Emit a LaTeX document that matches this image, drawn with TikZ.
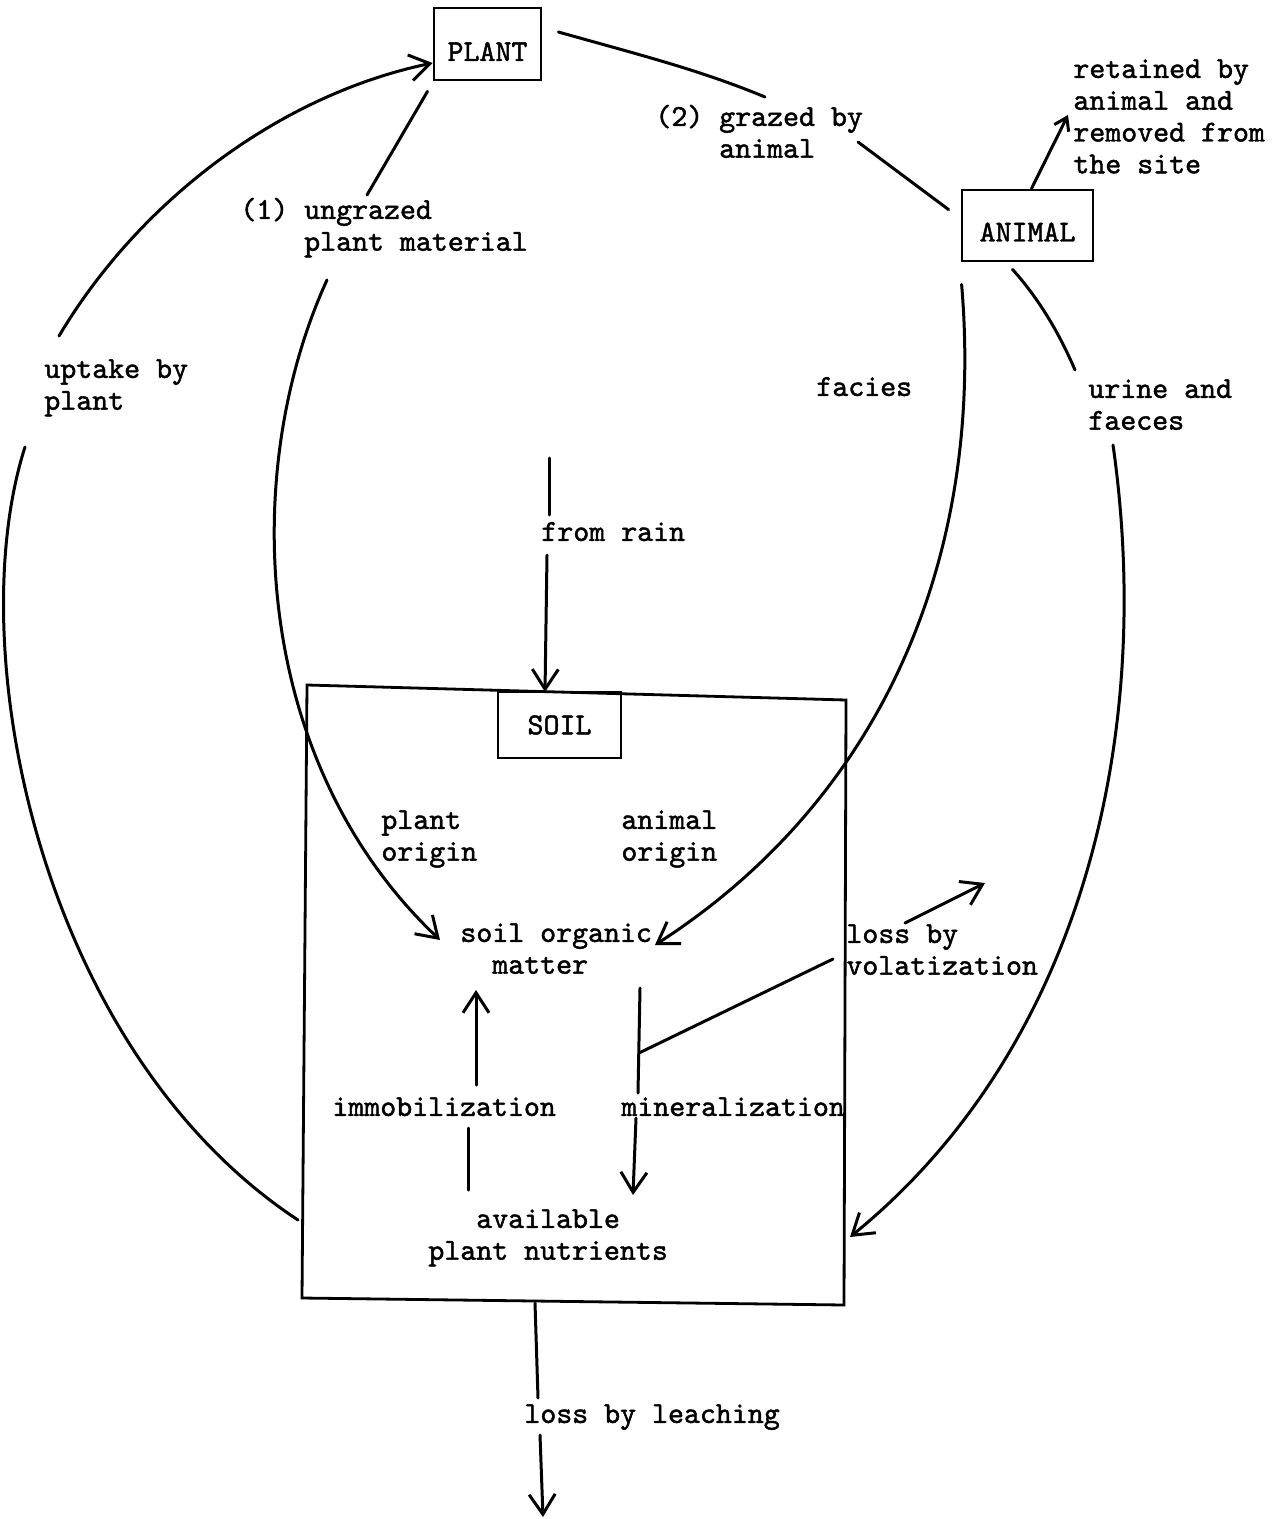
\documentclass[tikz,border=0pt]{standalone}
\usepackage{fontspec}
\newfontfamily\tw{lmmono10-regular.otf}[FakeBold=1.5]
\usetikzlibrary{arrows.meta}
\newcommand\lstr{\rule{0pt}{12pt}}
\begin{document}
\begin{tikzpicture}[x=0.5pt,y=-0.5pt,
  ln/.style={line width=1.5pt, line cap=round},
  arr/.style={ln, -{Straight Barb[length=10pt,width=13pt,line width=1.5pt]}},
  arrs/.style={ln, -{Straight Barb[length=6pt,width=8pt,line width=1.5pt]}},
  lbl/.style={anchor=north west, inner sep=0pt, align=left,
    font=\tw\fontsize{15.2}{15.9}\selectfont, yshift=8.75pt},
  boxn/.style={draw, line width=1.4pt, inner sep=0pt,
    font=\tw\fontsize{15.2}{15.9}\selectfont}]
\path[use as bounding box] (0,0) rectangle (1282,1519);

% ---- boxes
\node[boxn, minimum width=53.5pt, minimum height=36pt, text height=17pt, text depth=0pt] (plant) at (487.5,44) {PLANT};
\node[boxn, minimum width=65.5pt, minimum height=35.5pt, text height=16pt, text depth=0pt] (animal) at (1027.5,225.5) {ANIMAL};
\node[boxn, minimum width=61.5pt, minimum height=33pt] (soil) at (559.5,725) {SOIL};
\draw[line width=1.4pt] (307,685) -- (846,700) -- (844,1305) -- (302,1298) -- cycle;

% ---- labels
\node[lbl] (ungr) at (240,212) {\lstr(1) ungrazed\\\hphantom{(1)~}plant material};
\node[lbl] (graz) at (655,119) {\lstr(2) grazed by\\\hphantom{(2)~}animal};
\node[lbl] (ret) at (1073,71) {\lstr retained by\\animal and\\removed from\\the site};
\node[lbl] (upt) at (44,371) {\lstr uptake by\\plant};
\node[lbl] (fac) at (816,389) {\lstr facies};
\node[lbl] (uri) at (1088,391) {\lstr urine and\\faeces};
\node[lbl] (rain) at (541,534) {\lstr from rain};
\node[lbl] (porig) at (381,822) {\lstr plant\\origin};
\node[lbl] (aorig) at (621,822) {\lstr animal\\origin};
\node[lbl] (som) at (460,935) {\lstr soil organic\\\hphantom{so}matter};
\node[lbl] (vol) at (846,936) {\lstr loss by\\volatization};
\node[lbl] (imm) at (332,1109) {\lstr immobilization};
\node[lbl] (min) at (621,1109) {\lstr mineralization};
\node[lbl] (avail) at (428,1221) {\lstr\hphantom{pla}available\\plant nutrients};
\node[lbl] (leach) at (524,1416) {\lstr loss by leaching};

% ---- connector end points
\coordinate (upA) at (298,1220);
\coordinate (upB) at (25,447);
\coordinate (upC) at (59,336);
\coordinate (ugA) at (367,195);
\coordinate (ugB) at (327,280);
\coordinate (somL) at (440,940);
\coordinate (somR) at (655,945);
\coordinate (grA) at (765,97);
\coordinate (grB) at (858,142);
\coordinate (retT) at (1068,115);
\coordinate (urA) at (1075,370);
\coordinate (urB) at (1113,445);
\coordinate (urT) at (850,1237);
\coordinate (rainA) at (549,458);
\coordinate (rainB) at (549,515);
\coordinate (rainC) at (547,555);
\coordinate (rainT) at (545,692);
\coordinate (imA) at (468,1190);
\coordinate (imB) at (468,1128);
\coordinate (imC) at (476,1085);
\coordinate (imT) at (476,990);
\coordinate (miA) at (640,988);
\coordinate (miB) at (638,1093);
\coordinate (miC) at (636,1118);
\coordinate (miT) at (633,1195);
\coordinate (voA) at (639,1053);
\coordinate (voB) at (833,959);
\coordinate (voC) at (905,923);
\coordinate (voT) at (985,883);
\coordinate (leA) at (535,1303);
\coordinate (leB) at (538,1398);
\coordinate (leC) at (540,1435);
\coordinate (leT) at (543,1517);

% ---- uptake by plant
\draw[ln] (upA) .. controls (40,1050) and (-40,650) .. (upB);
\draw[arr] (upC) .. controls (140,200) and (280,95) .. ([yshift=-9.5pt]plant.west);

% ---- ungrazed
\draw[ln] ([xshift=-30pt,yshift=-5pt]plant.south) -- (ugA);
\draw[arr] (ugB) .. controls (240,470) and (250,760) .. (somL);

% ---- grazed
\draw[ln] ([xshift=8pt,yshift=6pt]plant.east) .. controls (640,55) and (700,70) .. (grA);
\draw[ln] (grB) -- ([xshift=-6pt,yshift=-10.5pt]animal.north west);

% ---- retained
\draw[arrs] ([xshift=2pt]animal.north) -- (retT);

% ---- facies
\draw[arr] ([xshift=0.5pt,yshift=-11pt]animal.south west) .. controls (985,560) and (880,800) .. (somR);

% ---- urine and faeces
\draw[ln] ([xshift=-7.5pt,yshift=-3.5pt]animal.south) .. controls (1040,300) and (1060,335) .. (urA);
\draw[arr] (urB) .. controls (1155,740) and (1080,1050) .. (urT);

% ---- from rain
\draw[ln] (rainA) -- (rainB);
\draw[arr] (rainC) -- (rainT);

% ---- immobilization / mineralization
\draw[ln] (imA) -- (imB);
\draw[arr] (imC) -- (imT);
\draw[ln] (miA) -- (miB);
\draw[arr] (miC) -- (miT);

% ---- volatization
\draw[ln] (voA) -- (voB);
\draw[arr] (voC) -- (voT);

% ---- leaching
\draw[ln] (leA) -- (leB);
\draw[arr] (leC) -- (leT);
\end{tikzpicture}
\end{document}
